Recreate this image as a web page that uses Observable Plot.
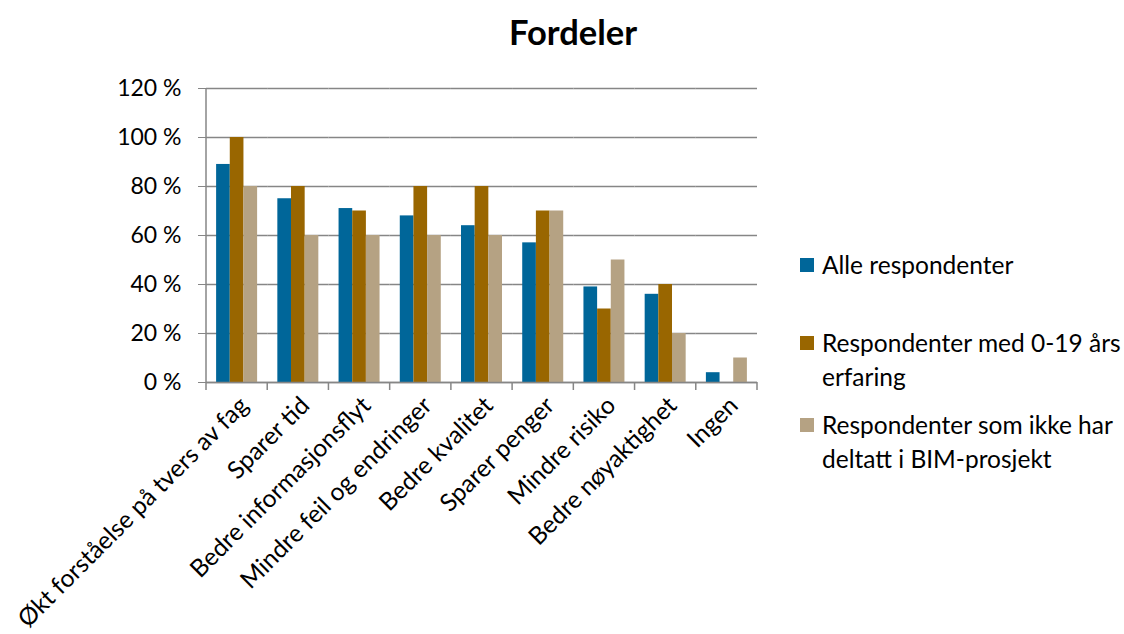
<!DOCTYPE html>
<html>
<head>
<meta charset="utf-8">
<script src="https://cdn.jsdelivr.net/npm/d3@7"></script>
<script src="https://cdn.jsdelivr.net/npm/@observablehq/plot@0.6"></script>
<style>
  html, body { margin: 0; padding: 0; background: #fff; }
  #wrap { position: relative; width: 1124px; height: 634px; font-family: Lato, "Noto Sans", sans-serif; color: #000; }
  #title { position: absolute; left: 0; width: 1146px; top: 10px; text-align: center; font-weight: bold; font-size: 34.5px; line-height: 44px; height: 58px; }
  #chart { position: absolute; left: 0; top: 70px; }
  #legend { position: absolute; left: 800px; top: 248px; font-size: 24.5px; line-height: 34px; white-space: nowrap; }
  .item { position: relative; padding-left: 22px; }
  .sw { position: absolute; left: 0; top: 10px; width: 14px; height: 14px; }
</style>
</head>
<body>
<div id="wrap">
  <div id="title">Fordeler</div>
  <div id="chart"></div>
  <div id="legend"></div>
</div>
<script>
const categories = ["Økt forståelse på tvers av fag", "Sparer tid", "Bedre informasjonsflyt", "Mindre feil og endringer", "Bedre kvalitet", "Sparer penger", "Mindre risiko", "Bedre nøyaktighet", "Ingen"];
const series = ["Alle respondenter", "Respondenter med 0-19 års erfaring", "Respondenter som ikke har deltatt i BIM-prosjekt"];
const legendLines = [["Alle respondenter"], ["Respondenter med 0-19 års", "erfaring"], ["Respondenter som ikke har", "deltatt i BIM-prosjekt"]];
const alleRespondenter = [89, 75, 71, 68, 64, 57, 39, 36, 4];
const erfaring0til19 = [100, 80, 70, 80, 80, 70, 30, 40, 0];
const ikkeBimProsjekt = [80, 60, 60, 60, 60, 70, 50, 20, 10];
const yTicks = [0, 20, 40, 60, 80, 100, 120];
const colors = ["#006699", "#996600", "#B5A283"];

const seriesValues = [alleRespondenter, erfaring0til19, ikkeBimProsjekt];
const data = [];
categories.forEach((c, i) => series.forEach((s, j) => data.push({category: c, series: s, value: seriesValues[j][i]})));

const gray = "#868686";
const chart = Plot.plot({
  width: 1124,
  height: 564,
  marginLeft: 206,
  marginRight: 367,
  marginTop: 18,
  marginBottom: 252,
  style: {fontFamily: "Lato, 'Noto Sans', sans-serif", fontSize: "23px", color: "#000", background: "transparent", overflow: "visible"},
  fx: {domain: categories, padding: 0, round: false, label: null},
  x: {domain: series, paddingInner: 0, paddingOuter: 0.74, axis: null, round: false},
  y: {domain: [0, 120], label: null},
  color: {domain: series, range: colors},
  marks: [
    Plot.gridY(yTicks, {stroke: gray, strokeOpacity: 1, strokeWidth: 1.5}),
    Plot.axisY(yTicks, {tickSize: 8, tickPadding: 17, stroke: gray, fill: "#000", tickFormat: d => d + " %", label: null, fontSize: 23}),
    Plot.axisFx({anchor: "bottom", tickRotate: -45, tickSize: 0, tickPadding: 19, dx: 7, label: null, fontSize: 24.5, fill: "#000"}),
    Plot.barY(data, {fx: "category", x: "series", y: "value", fill: "series"}),
    Plot.ruleY([0], {stroke: gray, strokeWidth: 1.5})
  ]
});
document.getElementById("chart").appendChild(chart);

// Excel-style axis line and category boundary ticks, placed from Plot's own scales
const fx = chart.scale("fx");
const ys = chart.scale("y");
const step = (fx.range[1] - fx.range[0]) / categories.length;
const g = d3.select(chart).append("g").attr("stroke", gray).attr("stroke-width", 1.5);
g.append("line").attr("x1", fx.range[0]).attr("x2", fx.range[0]).attr("y1", ys.range[0] + 8).attr("y2", ys.range[1]);
for (let i = 1; i <= categories.length; i++) {
  const xb = fx.range[0] + i * step;
  g.append("line").attr("x1", xb).attr("x2", xb).attr("y1", ys.range[0]).attr("y2", ys.range[0] + 8);
}

const legend = document.getElementById("legend");
legendLines.forEach((lines, i) => {
  const d = document.createElement("div");
  d.className = "item";
  d.style.marginBottom = i === 0 ? "44px" : "14px";
  d.innerHTML = `<span class="sw" style="background:${colors[i]}"></span>` + lines.join("<br>");
  legend.appendChild(d);
});
</script>
</body>
</html>
